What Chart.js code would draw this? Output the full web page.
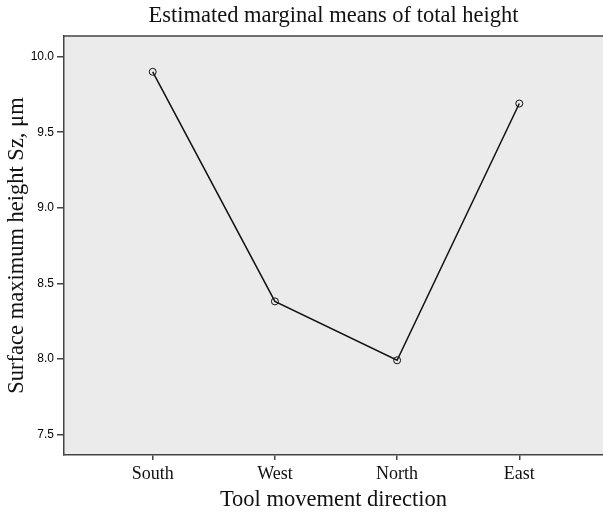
<!DOCTYPE html>
<html lang="en">
<head>
    <meta charset="UTF-8">
    <title>Estimated marginal means of total height</title>
    <script src="https://cdn.jsdelivr.net/npm/chart.js"></script>
    <style>
        html, body { margin: 0; padding: 0; background: #fff; }
        #wrap { width: 603px; height: 514px; position: relative; }
    </style>
</head>
<body>
    <div id="wrap"><canvas id="emmChart"></canvas></div>

    <script>
        // data
        const directions = ['South', 'West', 'North', 'East'];
        const sz = [9.90, 8.38, 7.99, 9.69];
        const yTicks = [7.5, 8.0, 8.5, 9.0, 9.5, 10.0];

        const serif = '"Liberation Serif", "Times New Roman", serif';

        // grey plot panel + top border, like the SPSS output
        const panel = {
            id: 'panel',
            beforeDraw(chart) {
                const { ctx, chartArea: a } = chart;
                ctx.save();
                ctx.fillStyle = '#ebebeb';
                ctx.fillRect(a.left, a.top, a.right - a.left, a.bottom - a.top);
                ctx.strokeStyle = '#444';
                ctx.lineWidth = 1.5;
                ctx.beginPath();
                ctx.moveTo(a.left, a.top);
                ctx.lineTo(a.right, a.top);
                ctx.stroke();
                ctx.restore();
            }
        };

        const ctx = document.getElementById('emmChart').getContext('2d');
        new Chart(ctx, {
            type: 'line',
            data: {
                datasets: [{
                    data: sz.map((v, i) => ({ x: i, y: v })),
                    borderColor: '#111',
                    borderWidth: 1.5,
                    pointRadius: 3.5,
                    pointBorderWidth: 1,
                    pointBorderColor: '#111',
                    pointBackgroundColor: 'rgba(0,0,0,0)',
                    tension: 0
                }]
            },
            options: {
                responsive: true,
                maintainAspectRatio: false,
                animation: false,
                layout: { padding: 0, autoPadding: false },
                plugins: {
                    legend: { display: false },
                    tooltip: { enabled: false },
                    title: {
                        display: true,
                        text: 'Estimated marginal means of total height',
                        fullSize: false,
                        color: '#111',
                        font: { family: serif, size: 22.5, weight: 'normal' },
                        padding: { top: 2.5, bottom: 6.5 }
                    }
                },
                scales: {
                    x: {
                        type: 'linear',
                        min: -0.726,
                        max: 3.685,
                        afterBuildTicks: s => { s.ticks = directions.map((d, i) => ({ value: i })); },
                        afterFit: s => { s.height = 59; s.paddingLeft = 0; s.paddingRight = 0; },
                        ticks: {
                            callback: v => directions[v],
                            color: '#111',
                            padding: 3,
                            maxRotation: 0,
                            font: { family: serif, size: 18 }
                        },
                        grid: { drawOnChartArea: false, drawTicks: true, tickLength: 5, color: '#444', lineWidth: 1.5 },
                        border: { display: true, color: '#444', width: 1.5 },
                        title: {
                            display: true,
                            text: 'Tool movement direction',
                            color: '#111',
                            font: { family: serif, size: 22.5 },
                            padding: { top: 0, bottom: 0.5 }
                        }
                    },
                    y: {
                        min: 7.363,
                        max: 10.137,
                        afterBuildTicks: s => { s.ticks = yTicks.map(v => ({ value: v })); },
                        afterFit: s => { s.width = 64; },
                        ticks: {
                            callback: v => v.toFixed(1),
                            color: '#000',
                            padding: 3,
                            font: { family: '"Liberation Sans", Arial, sans-serif', size: 12 }
                        },
                        grid: { drawOnChartArea: false, drawTicks: true, tickLength: 7, color: '#444', lineWidth: 1.5 },
                        border: { display: true, color: '#444', width: 1.5 },
                        title: {
                            display: true,
                            text: 'Surface maximum height Sz, μm',
                            color: '#111',
                            font: { family: serif, size: 22.5 },
                            padding: { top: 4, bottom: 0 }
                        }
                    }
                }
            },
            plugins: [panel]
        });
    </script>
</body>
</html>
